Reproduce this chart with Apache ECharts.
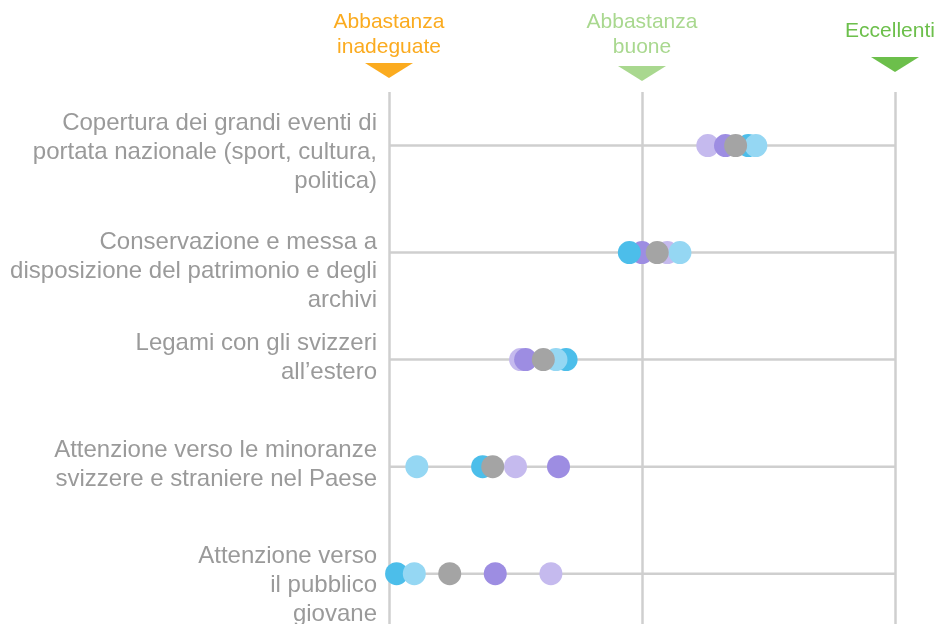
<!DOCTYPE html>
<html>
<head>
<meta charset="utf-8">
<script src="https://cdn.jsdelivr.net/npm/echarts@6/dist/echarts.min.js"></script>
<style>
  html, body { margin: 0; padding: 0; background: #fff; }
  #chart { width: 938px; height: 624px; }
</style>
</head>
<body>
<div id="chart"></div>
<script>
  // righe (dall'alto verso il basso)
  const categories = [
    'Copertura dei grandi eventi di\nportata nazionale (sport, cultura,\npolitica)',
    'Conservazione e messa a\ndisposizione del patrimonio e degli\narchivi',
    'Legami con gli svizzeri\nall’estero',
    'Attenzione verso le minoranze\nsvizzere e straniere nel Paese',
    'Attenzione verso\nil pubblico\ngiovane'
  ]
  // scala: 2 = abbastanza inadeguate, 3 = abbastanza buone, 4 = eccellenti
  const scaleLabels = ['Abbastanza\ninadeguate', 'Abbastanza\nbuone', 'Eccellenti']
  const scaleValues = [2, 3, 4]
  const scaleColors = ['#fbab1f', '#a9d88f', '#6cbf4b']

  // valori per gruppo, uno per riga
  const lilla = [3.26, 3.10, 2.52, 2.50, 2.64]
  const viola = [3.33, 3.00, 2.54, 2.67, 2.42]
  const blu = [3.42, 2.95, 2.70, 2.37, 2.03]
  const celeste = [3.45, 3.15, 2.66, 2.11, 2.10]
  const grigio = [3.37, 3.06, 2.61, 2.41, 2.24]

  const groups = [
    { name: 'lilla', values: lilla, color: '#c5baee' },
    { name: 'viola', values: viola, color: '#9d8de2' },
    { name: 'blu', values: blu, color: '#4cbeea' },
    { name: 'celeste', values: celeste, color: '#95d7f3' },
    { name: 'grigio', values: grigio, color: '#a4a4a4' }
  ]

  // spostamento verticale delle etichette rispetto alla riga (px)
  const labelShift = [7, 19, -2, -2, 12]

  const myChart = echarts.init(document.getElementById('chart'))

  // righe orizzontali, una per categoria
  const rowLines = categories.map((c, i) => ({
    type: 'line',
    data: [[2, i], [4, i]],
    symbol: 'none',
    silent: true,
    z: 1,
    lineStyle: { color: '#cfcfcf', width: 2.5 }
  }))

  const dots = groups.map((g) => ({
    name: g.name,
    type: 'scatter',
    symbol: 'circle',
    symbolSize: 23,
    z: 3,
    itemStyle: { color: g.color, opacity: 1 },
    data: g.values.map((v, i) => [v, i])
  }))

  let option = {
    animation: false,
    grid: { left: 389, right: 43, top: 92, bottom: 0 },
    xAxis: {
      type: 'value',
      min: 2,
      max: 4,
      interval: 1,
      axisLine: { show: false },
      axisTick: { show: false },
      axisLabel: { show: false },
      splitLine: { show: true, lineStyle: { color: '#cfcfcf', width: 2.5 } }
    },
    yAxis: {
      // indice della riga; l'ultima riga è tagliata dal bordo inferiore
      type: 'value',
      inverse: true,
      min: -0.5,
      max: 4.47,
      axisLine: { show: false },
      axisTick: { show: false },
      splitLine: { show: false },
      axisLabel: { show: false }
    },
    series: rowLines.concat(dots)
  }
  myChart.setOption(option)

  const graphics = []
  // etichette delle righe
  categories.forEach((c, i) => {
    const y = myChart.convertToPixel({ yAxisIndex: 0 }, i)
    graphics.push({
      type: 'text',
      x: 377,
      y: y + labelShift[i],
      style: {
        text: c,
        fill: '#9a9a9a',
        font: '24px Liberation Sans, Arial, sans-serif',
        lineHeight: 29,
        align: 'right',
        verticalAlign: 'middle'
      }
    })
  })
  // intestazioni della scala con triangoli
  scaleValues.forEach((v, i) => {
    const x = myChart.convertToPixel({ xAxisIndex: 0 }, v)
    const single = scaleLabels[i].indexOf('\n') < 0
    const triTop = [63, 66, 57][i]
    graphics.push({
      type: 'text',
      x: i === 2 ? x - 5 : x,
      y: single ? 31 : 35,
      style: {
        text: scaleLabels[i],
        fill: scaleColors[i],
        font: '21px Liberation Sans, Arial, sans-serif',
        lineHeight: 25,
        align: 'center',
        verticalAlign: 'middle'
      }
    })
    graphics.push({
      type: 'polygon',
      shape: { points: [[x - 24, triTop], [x + 24, triTop], [x, triTop + 15]] },
      style: { fill: scaleColors[i] }
    })
  })
  myChart.setOption({ graphic: graphics })
</script>
</body>
</html>
